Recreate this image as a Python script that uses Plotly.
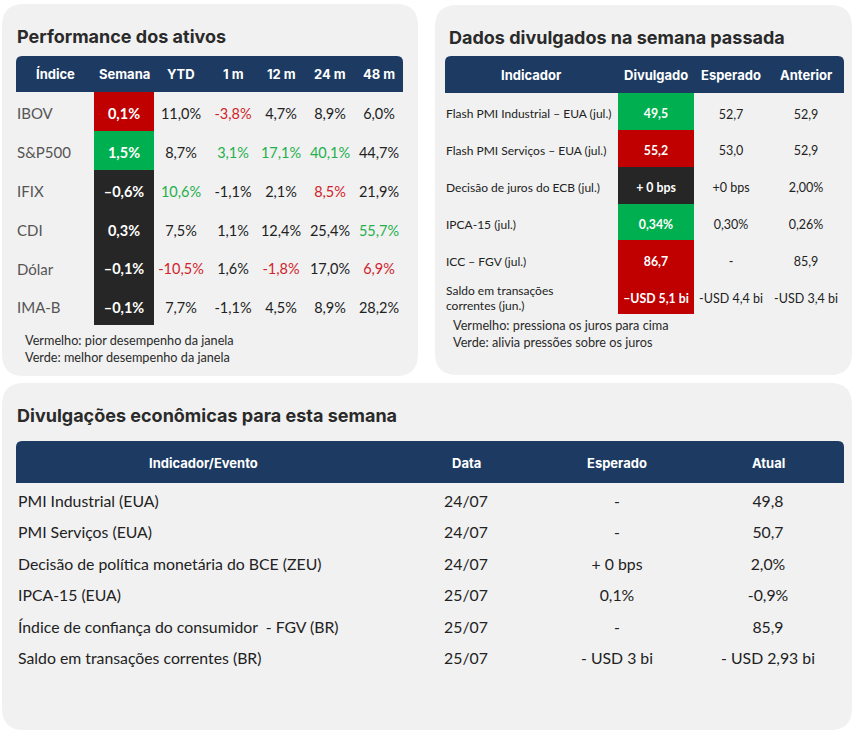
import plotly.graph_objects as go

# ---- data: Performance dos ativos ----
ativos = ["IBOV", "S&P500", "IFIX", "CDI", "Dólar", "IMA-B"]
perf_headers = ["Índice", "Semana", "YTD", "1 m", "12 m", "24 m", "48 m"]
semana = ["0,1%", "1,5%", "–0,6%", "0,3%", "–0,1%", "–0,1%"]
ytd = ["11,0%", "8,7%", "10,6%", "7,5%", "-10,5%", "7,7%"]
m1 = ["-3,8%", "3,1%", "-1,1%", "1,1%", "1,6%", "-1,1%"]
m12 = ["4,7%", "17,1%", "2,1%", "12,4%", "-1,8%", "4,5%"]
m24 = ["8,9%", "40,1%", "8,5%", "25,4%", "17,0%", "8,9%"]
m48 = ["6,0%", "44,7%", "21,9%", "55,7%", "6,9%", "28,2%"]
# 1 = melhor (verde), -1 = pior (vermelho), 0 = neutro
semana_flag = [-1, 1, 0, 0, 0, 0]
ytd_flag = [0, 0, 1, 0, -1, 0]
m1_flag = [-1, 1, 0, 0, 0, 0]
m12_flag = [0, 1, 0, 0, -1, 0]
m24_flag = [0, 1, -1, 0, 0, 0]
m48_flag = [0, 0, 0, 1, -1, 0]

# ---- data: Dados divulgados na semana passada ----
dados_headers = ["Indicador", "Divulgado", "Esperado", "Anterior"]
indicadores = ["Flash PMI Industrial – EUA (jul.)", "Flash PMI Serviços – EUA (jul.)",
               "Decisão de juros do ECB (jul.)", "IPCA-15 (jul.)", "ICC – FGV (jul.)",
               "Saldo em transações<br>correntes (jun.)"]
divulgado = ["49,5", "55,2", "+ 0 bps", "0,34%", "86,7", "–USD 5,1 bi"]
divulgado_flag = [1, -1, 0, 1, -1, -1]
esperado = ["52,7", "53,0", "+0 bps", "0,30%", "-", "-USD 4,4 bi"]
anterior = ["52,9", "52,9", "2,00%", "0,26%", "85,9", "-USD 3,4 bi"]

# ---- data: Divulgações econômicas para esta semana ----
agenda_headers = ["Indicador/Evento", "Data", "Esperado", "Atual"]
eventos = ["PMI Industrial (EUA)", "PMI Serviços (EUA)",
           "Decisão de política monetária do BCE (ZEU)", "IPCA-15 (EUA)",
           "Índice de confiança do consumidor  - FGV (BR)",
           "Saldo em transações correntes (BR)"]
datas = ["24/07", "24/07", "24/07", "25/07", "25/07", "25/07"]
esperado_sem = ["-", "-", "+ 0 bps", "0,1%", "-", "- USD 3 bi"]
atual_sem = ["49,8", "50,7", "2,0%", "-0,9%", "85,9", "- USD 2,93 bi"]

# ---- styles ----
W, H = 854, 736
PANEL = "#f1f1f1"
NAVY = "#1c3a62"
RED, GREEN, BLACK = "#c00000", "#00b050", "#262626"
TEXT = {1: "#1fb04c", -1: "#d0232a", 0: "#222222"}
BODY_FONT = "Lato"
HEAD_FONT = "Inter"


def px(x):
    return x / W


def py(y):
    return 1 - y / H


def rounded(x0, y0, x1, y1, r, top_only=False):
    rb = 0 if top_only else r
    pts = [
        ("M", [(x0 + r, y0)]), ("L", [(x1 - r, y0)]), ("Q", [(x1, y0), (x1, y0 + r)]),
        ("L", [(x1, y1 - rb)]), ("Q", [(x1, y1), (x1 - rb, y1)]),
        ("L", [(x0 + rb, y1)]), ("Q", [(x0, y1), (x0, y1 - rb)]),
        ("L", [(x0, y0 + r)]), ("Q", [(x0, y0), (x0 + r, y0)]),
    ]
    out = ""
    for cmd, ps in pts:
        out += cmd + " " + " ".join(f"{px(a):.5f},{py(b):.5f}" for a, b in ps) + " "
    return out + "Z"


fig = go.Figure()
shapes = []
annotations = []

# panels
for box in [(2, 4, 418, 376), (435, 5, 852, 375), (2, 383, 852, 730)]:
    shapes.append(dict(type="path", path=rounded(*box, 22), xref="paper", yref="paper",
                       fillcolor=PANEL, line_width=0, layer="below"))
# header bands
for box in [(16, 56, 403, 92), (445, 56, 844, 93), (16, 441, 844, 483)]:
    shapes.append(dict(type="path", path=rounded(*box, 6, top_only=True), xref="paper",
                       yref="paper", fillcolor=NAVY, line_width=0, layer="below"))

# titles
for x, y, t in [(15, 36, "Performance dos ativos"), (447, 37, "Dados divulgados na semana passada"),
                (15, 415, "Divulgações econômicas para esta semana")]:
    annotations.append(dict(x=px(x), y=py(y), xref="paper", yref="paper", text=t,
                            showarrow=False, xanchor="left", yanchor="middle",
                            font=dict(family=HEAD_FONT, size=18, color="#2a2a2a", weight=700)))

# notes
for x, y, t in [(23, 340, "Vermelho: pior desempenho da janela"),
                (23, 357, "Verde: melhor desempenho da janela"),
                (451, 325, "Vermelho: pressiona os juros para cima"),
                (451, 342, "Verde: alivia pressões sobre os juros")]:
    annotations.append(dict(x=px(x), y=py(y), xref="paper", yref="paper", text=t,
                            showarrow=False, xanchor="left", yanchor="middle",
                            font=dict(family=BODY_FONT, size=12.7, color="#2a2a2a")))


def header(axis, xs, labels, y, size=13):
    for x, t in zip(xs, labels):
        annotations.append(dict(x=x, y=py(y), xref=axis, yref="paper", text=t,
                                showarrow=False, xanchor="center", yanchor="middle",
                                font=dict(family=HEAD_FONT, size=size, color="white", weight=700)))


def column(xax, yax, x, values, colors, size, pos="middle center", weight=400):
    fig.add_trace(go.Scatter(
        x=[x] * len(values), y=list(range(len(values))), mode="text", text=values,
        textposition=pos, hoverinfo="skip", cliponaxis=False,
        xaxis=xax, yaxis=yax,
        textfont=dict(family=BODY_FONT, size=size, color=colors, weight=weight)))


def block(xax, yax, x, width, flags):
    fig.add_trace(go.Heatmap(
        z=[[f] for f in flags], x=[x - width / 2, x + width / 2],
        y=[i - 0.5 for i in range(len(flags) + 1)], zmin=-1, zmax=1,
        colorscale=[[0, RED], [0.5, BLACK], [1, GREEN]], showscale=False,
        hoverinfo="skip", xaxis=xax, yaxis=yax))


# ---- table 1 ----
c1 = [55, 124, 181, 233, 281, 330, 379]
block("x", "y", c1[1], 60, semana_flag)
column("x", "y4", 17, ativos, "#555555", 15, pos="middle right")
column("x", "y4", c1[1], semana, "white", 14.5, weight=700)
for x, vals, flags in zip(c1[2:], [ytd, m1, m12, m24, m48],
                          [ytd_flag, m1_flag, m12_flag, m24_flag, m48_flag]):
    column("x", "y4", x, vals, [TEXT[f] for f in flags], 14.5)
header("x", c1, perf_headers, 74)

# ---- table 2 ----
c2 = [531, 656, 731, 806]
block("x2", "y2", c2[1], 76, divulgado_flag)
column("x2", "y5", 446, indicadores, "#222222", 12, pos="middle right")
column("x2", "y5", c2[1], divulgado, "white", 12.3, weight=700)
column("x2", "y5", c2[2], esperado, "#222222", 12.5)
column("x2", "y5", c2[3], anterior, "#222222", 12.5)
header("x2", c2, dados_headers, 75)

# ---- table 3 ----
c3 = [203, 466, 617, 768]
column("x3", "y3", 18, eventos, "#222222", 15.8, pos="middle right")
column("x3", "y3", c3[1], datas, "#222222", 15.8)
column("x3", "y3", c3[2], esperado_sem, "#222222", 15.8)
column("x3", "y3", c3[3], atual_sem, "#222222", 15.8)
header("x3", c3, agenda_headers, 463)

hidden = dict(showgrid=False, zeroline=False, showticklabels=False, showline=False,
              ticks="", fixedrange=True)
rows = [5.5, -0.5]
# text sits a few pixels below the row centre
nudge1, nudge2 = 4 / 38.8, 4 / 37
fig.update_layout(
    width=W, height=H, margin=dict(l=0, r=0, t=0, b=0),
    paper_bgcolor="white", plot_bgcolor="rgba(0,0,0,0)", showlegend=False,
    xaxis=dict(domain=[px(16), px(403)], range=[16, 403], anchor="y", **hidden),
    xaxis2=dict(domain=[px(445), px(844)], range=[445, 844], anchor="y2", **hidden),
    xaxis3=dict(domain=[px(16), px(844)], range=[16, 844], anchor="y3", **hidden),
    yaxis=dict(domain=[py(325), py(92)], range=rows, anchor="x", **hidden),
    yaxis2=dict(domain=[py(314), py(93)], range=rows, anchor="x2", **hidden),
    yaxis3=dict(domain=[py(676), py(487)], range=rows, anchor="x3", **hidden),
    yaxis4=dict(overlaying="y", range=[5.5 - nudge1, -0.5 - nudge1], anchor="x", **hidden),
    yaxis5=dict(overlaying="y2", range=[5.5 - nudge2, -0.5 - nudge2], anchor="x2", **hidden),
    shapes=shapes, annotations=annotations,
)

fig.write_html("out.html", config={"displayModeBar": False},
               post_script="document.body.style.margin='0px';")
